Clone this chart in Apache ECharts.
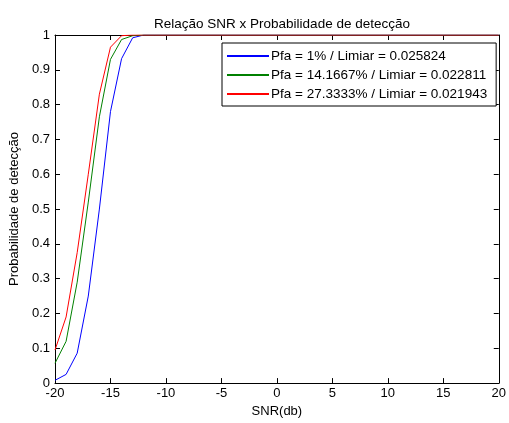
<!DOCTYPE html>
<html>
<head>
<meta charset="utf-8">
<script src="https://cdn.jsdelivr.net/npm/echarts@6/dist/echarts.min.js"></script>
<style>html,body{margin:0;padding:0;background:#fff;}#c{width:509px;height:423px;}</style>
</head>
<body>
<div id="c"></div>
<script>
var snr = [-20, -19, -18, -17, -16, -15, -14, -13, -12, -11, -10, -5, 0, 5, 10, 15, 20];
var pdBlue  = [0.008, 0.025, 0.086, 0.25, 0.50, 0.78, 0.932, 0.992, 1, 1, 1, 1, 1, 1, 1, 1, 1];
var pdGreen = [0.057, 0.12, 0.29, 0.52, 0.765, 0.93, 0.987, 0.998, 1, 1, 1, 1, 1, 1, 1, 1, 1];
var pdRed   = [0.095, 0.19, 0.375, 0.60, 0.83, 0.965, 0.998, 1, 1, 1, 1, 1, 1, 1, 1, 1, 1];
var names = ['Pfa = 1% / Limiar = 0.025824', 'Pfa = 14.1667% / Limiar = 0.022811', 'Pfa = 27.3333% / Limiar = 0.021943'];
var colors = ['#0000ff', '#008000', '#ff0000'];
var titleText = 'Relação SNR x Probabilidade de detecção';
var xName = 'SNR(db)';
var yName = 'Probabilidade de detecção';

function pairs(ys) { return snr.map(function (x, i) { return [x, ys[i]]; }); }
var font = 'Liberation Sans, Arial, sans-serif';
var fs = 13;
var axisLine = { show: true, onZero: false, lineStyle: { color: '#000', width: 1 } };
var tick = { show: true, inside: true, length: 5, lineStyle: { color: '#000' } };

var chart = echarts.init(document.getElementById('c'));
chart.setOption({
  animation: false,
  backgroundColor: '#fff',
  textStyle: { fontFamily: font },
  title: { text: titleText, left: 277, textAlign: 'center', top: 12, textStyle: { fontSize: 13.5, fontWeight: 'normal', color: '#000', fontFamily: font } },
  grid: { left: 55, right: 6, top: 35, bottom: 36 },
  legend: {
    orient: 'vertical', left: 222, top: 43,
    data: names.map(function (n, i) {
      return { name: n, icon: 'rect', itemStyle: { color: colors[i], borderWidth: 0, opacity: 1 } };
    }),
    backgroundColor: '#fff', borderColor: '#000', borderWidth: 1, borderRadius: 0,
    padding: [5, 9, 4, 5], itemGap: 3, itemWidth: 42, itemHeight: 2,
    textStyle: { fontSize: 13.5, color: '#000', fontFamily: font, lineHeight: 16, padding: [0, 0, 0, -3] }
  },
  xAxis: [
    { type: 'value', min: -20, max: 20, interval: 5, position: 'bottom', axisLine: axisLine, axisTick: tick,
      splitLine: { show: false }, axisLabel: { color: '#000', fontSize: fs, margin: 4, fontFamily: font },
      name: xName, nameLocation: 'middle', nameGap: 17, nameTextStyle: { color: '#000', fontSize: fs, fontFamily: font } },
    { type: 'value', min: -20, max: 20, interval: 5, position: 'top', axisLine: axisLine, axisTick: tick,
      splitLine: { show: false }, axisLabel: { show: false } }
  ],
  yAxis: [
    { type: 'value', min: 0, max: 1, interval: 0.1, position: 'left', axisLine: axisLine, axisTick: tick,
      splitLine: { show: false }, axisLabel: { color: '#000', fontSize: fs, margin: 5, fontFamily: font },
      name: yName, nameLocation: 'middle', nameGap: 29, nameTextStyle: { color: '#000', fontSize: fs, fontFamily: font } },
    { type: 'value', min: 0, max: 1, interval: 0.1, position: 'right', axisLine: axisLine, axisTick: tick,
      splitLine: { show: false }, axisLabel: { show: false } }
  ],
  series: [pdBlue, pdGreen, pdRed].map(function (ys, i) {
    return { name: names[i], type: 'line', data: pairs(ys), xAxisIndex: 0, yAxisIndex: 0,
      showSymbol: false, symbol: 'none', color: colors[i], lineStyle: { color: colors[i], width: 1 }, itemStyle: { color: colors[i] } };
  })
});
</script>
</body>
</html>
